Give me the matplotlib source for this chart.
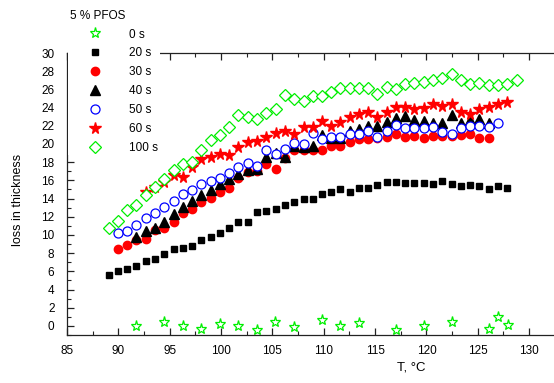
import numpy as np
import matplotlib
matplotlib.use("Agg")
import matplotlib.pyplot as plt
from matplotlib.ticker import MultipleLocator

plt.rcParams['font.family'] = ['Liberation Sans', 'DejaVu Sans']

# temperature grid shared by the series (deg C)
temp = [89.06, 89.98, 90.85, 91.76, 92.66, 93.58, 94.48, 95.39, 96.27, 97.18,
        98.09, 98.99, 99.91, 100.81, 101.69, 102.60, 103.51, 104.42, 105.32, 106.24,
        107.14, 108.05, 108.92, 109.84, 110.75, 111.62, 112.53, 113.44, 114.35, 115.22,
        116.13, 117.05, 117.92, 118.83, 119.73, 120.65, 121.55, 122.46, 123.37, 124.28,
        125.15, 126.06, 126.98, 127.88, 128.81]

# 0 s has its own temperatures
t0_x = [91.76, 94.45, 96.27, 98.09, 99.87, 101.69, 103.51, 105.29, 107.11, 109.80,
        111.62, 113.40, 117.05, 119.77, 122.46, 126.06, 127.00, 127.91]
t0_y = [0.0, 0.41, 0.0, -0.33, 0.19, 0.0, -0.44, 0.41, -0.14, 0.66,
        0.0, 0.30, -0.44, 0.0, 0.47, -0.33, 0.95, 0.11]

# (first index in temp, values)
s20 = (0, [5.60, 6.01, 6.26, 6.63, 7.11, 7.36, 7.88, 8.46, 8.60, 8.82,
           9.45, 9.75, 10.25, 10.80, 11.46, 11.46, 12.49, 12.64, 12.86, 13.26,
           13.66, 13.99, 13.99, 14.54, 14.69, 15.05, 14.76, 15.20, 15.13, 15.46,
           15.86, 15.79, 15.75, 15.68, 15.68, 15.64, 15.97, 15.57, 15.42, 15.46,
           15.38, 15.09, 15.42, 15.13])
s30 = (1, [8.43, 8.90, 9.42, 9.53, 10.50, 10.73, 11.46, 12.38, 12.89, 13.66,
           14.03, 14.76, 15.20, 16.26, 16.92, 17.03, 17.77, 17.25, 18.43, 19.31,
           19.34, 19.34, 19.34, 19.78, 19.78, 20.19, 20.55, 20.55, 20.69, 20.80,
           21.07, 20.80, 20.91, 20.69, 20.91, 20.91, 20.90, 20.96, 21.07, 20.66,
           20.69])
s40 = (3, [9.81, 10.44, 10.80, 11.46, 12.31, 13.04, 13.77, 14.40, 14.95, 15.57,
           16.15, 16.70, 17.14, 17.30, 18.60, 19.00, 18.60, 19.78, 19.70, 19.78,
           20.99, 20.69, 20.69, 21.46, 21.65, 22.01, 22.01, 22.42, 22.89, 23.04,
           22.64, 22.56, 22.34, 22.34, 23.19, 22.27, 22.64, 22.75, 22.34])
s50 = (1, [10.19, 10.47, 11.10, 11.90, 12.38, 13.11, 13.77, 14.47, 14.91, 15.60,
           15.93, 16.30, 16.85, 17.44, 17.88, 17.62, 19.34, 18.87, 19.45, 20.14,
           20.00, 21.18, 20.52, 20.74, 20.80, 21.07, 21.07, 21.46, 20.74, 21.46,
           22.09, 21.73, 21.73, 21.73, 21.84, 21.32, 21.07, 21.73, 21.98, 21.98,
           21.84, 22.34])
s60 = (4, [14.76, 15.22, 15.86, 16.60, 16.37, 17.47, 18.32, 18.57, 18.93, 18.74,
           19.62, 20.19, 20.33, 20.80, 21.24, 21.46, 21.08, 21.87, 21.87, 22.49,
           22.03, 22.40, 22.93, 23.30, 23.52, 23.00, 23.55, 24.10, 24.03, 23.88,
           23.92, 24.36, 24.14, 24.36, 23.55, 23.26, 23.81, 24.10, 24.36, 24.56])
s100 = (0, [10.77, 11.54, 12.75, 13.30, 14.34, 15.22, 16.10, 17.09, 17.80, 17.97,
            19.34, 20.44, 21.04, 21.90, 23.19, 22.93, 22.71, 23.44, 23.80, 25.33,
            24.95, 24.70, 25.27, 25.31, 25.75, 26.15, 26.19, 26.19, 26.10, 25.49,
            26.30, 26.02, 26.56, 26.67, 26.76, 27.07, 27.25, 27.67, 27.03, 26.57,
            26.67, 26.43, 26.50, 26.57, 27.03])


def xy(series):
    start, vals = series
    return temp[start:start + len(vals)], vals


fig = plt.figure(figsize=(5.54, 3.83), dpi=100)
ax = fig.add_axes([67 / 554, 48 / 383, 493 / 554, 282 / 383])

green = "#00ee00"
ax.plot(t0_x, t0_y, ls="none", marker="*", ms=8, mfc="white", mec=green, mew=0.9, label="0 s")
ax.plot(*xy(s20), ls="none", marker="s", ms=5, mfc="black", mec="black", label="20 s")
ax.plot(*xy(s30), ls="none", marker="o", ms=6, mfc="red", mec="red", label="30 s")
ax.plot(*xy(s40), ls="none", marker="^", ms=6.5, mfc="black", mec="black", label="40 s")
ax.plot(*xy(s50), ls="none", marker="o", ms=6.5, mfc="white", mec="blue", mew=0.9, label="50 s")
ax.plot(*xy(s60), ls="none", marker="*", ms=8.5, mfc="red", mec="red", label="60 s")
ax.plot(*xy(s100), ls="none", marker="D", ms=6, mfc="white", mec=green, mew=0.9, label="100 s")

ax.set_xlim(85, 85 + 493 / 10.27)
ax.set_ylim(-1, 30)
ax.xaxis.set_major_locator(MultipleLocator(5))
ax.xaxis.set_minor_locator(MultipleLocator(2.5))
ax.yaxis.set_major_locator(MultipleLocator(2))
ax.yaxis.set_minor_locator(MultipleLocator(1))
ax.tick_params(which="both", direction="in", top=True, right=False, labelsize=8.5, color="#222222")
ax.tick_params(which="major", length=5, width=0.9)
ax.tick_params(which="minor", length=3, width=0.8)
ax.tick_params(axis="y", pad=9)
ax.tick_params(axis="x", pad=7)
for sp in ax.spines.values():
    sp.set_linewidth(0.9)
    sp.set_color("#222222")

ax.set_xlabel("T, °C", fontsize=9.5)
ax.xaxis.set_label_coords((411 - 67) / 493, -0.095)
ax.set_ylabel("loss in thickness", fontsize=9)
ax.yaxis.set_label_coords(-0.088, 0.48)

leg = ax.legend(loc="upper left", bbox_to_anchor=(68 / 554, 1 - 8 / 383),
                bbox_transform=fig.transFigure, title="5 % PFOS", fontsize=8.5,
                title_fontsize=8.5, frameon=True, framealpha=1, edgecolor="none",
                facecolor="white", fancybox=False, numpoints=1, handlelength=4.2,
                handletextpad=0.8, labelspacing=0.58, borderpad=0.15,
                borderaxespad=0, alignment="left")
leg.set_zorder(10)

fig.savefig("out.png", dpi=100)
